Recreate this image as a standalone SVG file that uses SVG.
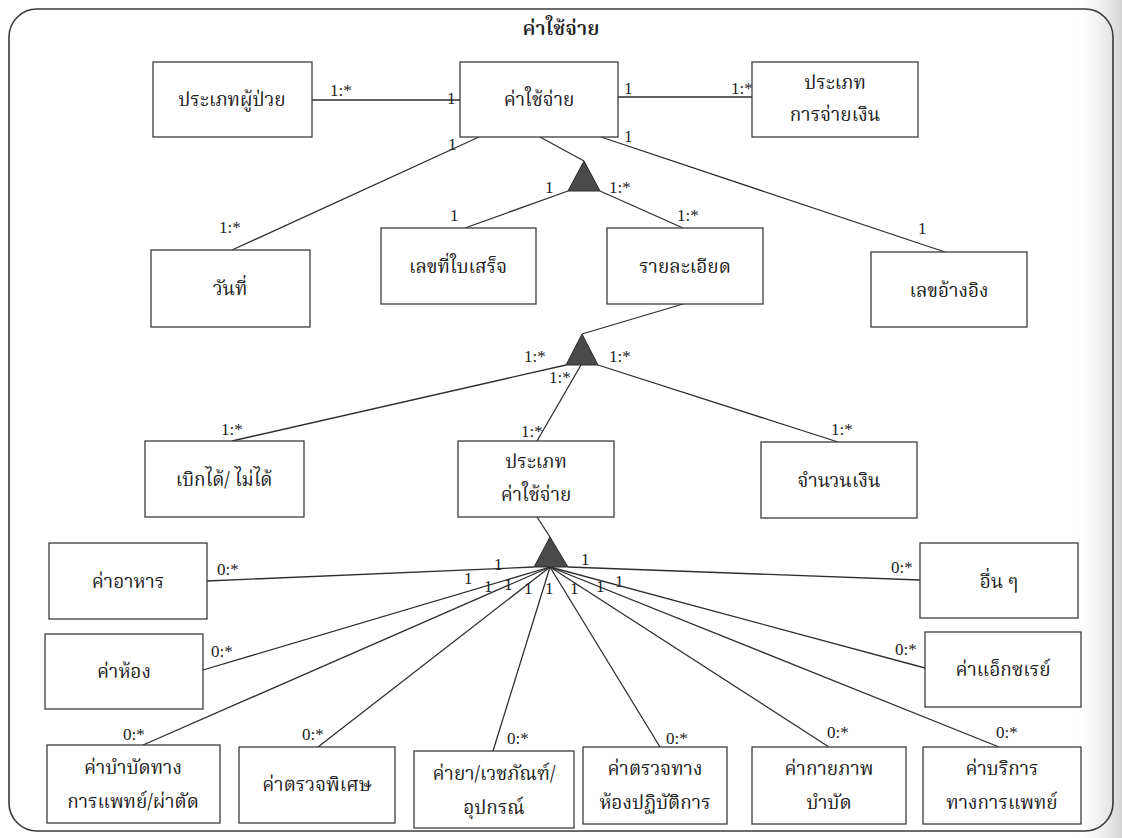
<svg xmlns="http://www.w3.org/2000/svg" width="1122" height="838" viewBox="0 0 1122 838">
  <defs>
    <linearGradient id="edgeShade" x1="0" y1="0" x2="1" y2="0">
      <stop offset="0" stop-color="#ffffff" stop-opacity="0"/>
      <stop offset="1" stop-color="#c8c8c8" stop-opacity="0.8"/>
    </linearGradient>
    <style>
      .frame { fill: none; stroke: #3a3a3a; stroke-width: 1.6; }
      .box { fill: #ffffff; stroke: #3c3c3c; stroke-width: 1.3; }
      .link { fill: none; stroke: #2e2e2e; stroke-width: 1.3; }
      .agg { fill: #4a4a4a; stroke: #2a2a2a; stroke-width: 1; }
      .label { font-family: "Norasi", "Kinnari", "Noto Serif Thai", "Noto Sans Thai Looped", "Noto Sans Thai", "Liberation Serif", serif; font-size: 19px; fill: #222; text-anchor: middle; }
      .title { font-family: "Norasi", "Kinnari", "Noto Serif Thai", "Noto Sans Thai Looped", "Noto Sans Thai", "Liberation Serif", serif; font-size: 20px; font-weight: 600; fill: #222; text-anchor: middle; }
      .mult { font-family: "Liberation Serif", serif; font-size: 17px; fill: #222; }
    </style>
  </defs>

  <rect x="0" y="0" width="1122" height="838" fill="#ffffff"/>
  <rect x="1070" y="0" width="52" height="838" fill="url(#edgeShade)"/>

  <!-- outer frame -->
  <rect class="frame" x="9" y="9" width="1104" height="822" rx="28" ry="28"/>
  <text class="title" x="561" y="35">ค่าใช้จ่าย</text>

  <!-- connectors -->
  <g id="connectors">
    <line class="link" x1="312" y1="100" x2="460" y2="100"/>
    <line class="link" x1="617" y1="97" x2="752" y2="97"/>
    <line class="link" x1="479" y1="137" x2="232" y2="250"/>
    <line class="link" x1="540" y1="137" x2="584" y2="161"/>
    <line class="link" x1="568" y1="191" x2="465" y2="228"/>
    <line class="link" x1="600" y1="191" x2="683" y2="228"/>
    <line class="link" x1="601" y1="137" x2="945" y2="252"/>
    <line class="link" x1="683" y1="304" x2="582" y2="334"/>
    <line class="link" x1="566" y1="365" x2="232" y2="441"/>
    <line class="link" x1="581" y1="365" x2="537" y2="441"/>
    <line class="link" x1="598" y1="365" x2="838" y2="442"/>
    <line class="link" x1="537" y1="517" x2="550" y2="537"/>
    <line class="link" x1="534" y1="567" x2="207" y2="581"/>
    <line class="link" x1="550" y1="567" x2="203" y2="670"/>
    <line class="link" x1="550" y1="567" x2="143" y2="745"/>
    <line class="link" x1="550" y1="567" x2="318" y2="747"/>
    <line class="link" x1="550" y1="567" x2="493" y2="751"/>
    <line class="link" x1="550" y1="567" x2="660" y2="747"/>
    <line class="link" x1="550" y1="567" x2="829" y2="747"/>
    <line class="link" x1="550" y1="567" x2="999" y2="747"/>
    <line class="link" x1="550" y1="567" x2="925" y2="668"/>
    <line class="link" x1="568" y1="567" x2="920" y2="580"/>

    <!-- aggregation triangles -->
    <polygon class="agg" points="584,161 568,191 600,191"/>
    <polygon class="agg" points="582,334 566,365 598,365"/>
    <polygon class="agg" points="550,537 534,567 568,567"/>

    <!-- multiplicities -->
    <text class="mult" x="330" y="96">1:*</text>
    <text class="mult" x="447" y="104">1</text>
    <text class="mult" x="624" y="94">1</text>
    <text class="mult" x="731" y="94">1:*</text>
    <text class="mult" x="448" y="150">1</text>
    <text class="mult" x="624" y="142">1</text>
    <text class="mult" x="219" y="233">1:*</text>
    <text class="mult" x="545" y="193">1</text>
    <text class="mult" x="450" y="221">1</text>
    <text class="mult" x="609" y="193">1:*</text>
    <text class="mult" x="677" y="221">1:*</text>
    <text class="mult" x="918" y="234">1</text>
    <text class="mult" x="524" y="362">1:*</text>
    <text class="mult" x="609" y="362">1:*</text>
    <text class="mult" x="549" y="383">1:*</text>
    <text class="mult" x="521" y="437">1:*</text>
    <text class="mult" x="221" y="435">1:*</text>
    <text class="mult" x="831" y="435">1:*</text>

    <text class="mult" x="217" y="575">0:*</text>
    <text class="mult" x="211" y="657">0:*</text>
    <text class="mult" x="123" y="740">0:*</text>
    <text class="mult" x="302" y="740">0:*</text>
    <text class="mult" x="507" y="744">0:*</text>
    <text class="mult" x="666" y="744">0:*</text>
    <text class="mult" x="827" y="738">0:*</text>
    <text class="mult" x="996" y="738">0:*</text>
    <text class="mult" x="895" y="655">0:*</text>
    <text class="mult" x="891" y="573">0:*</text>

    <text class="mult" x="494" y="570">1</text>
    <text class="mult" x="464" y="584">1</text>
    <text class="mult" x="484" y="592">1</text>
    <text class="mult" x="504" y="590">1</text>
    <text class="mult" x="524" y="594">1</text>
    <text class="mult" x="545" y="594">1</text>
    <text class="mult" x="570" y="594">1</text>
    <text class="mult" x="596" y="592">1</text>
    <text class="mult" x="615" y="587">1</text>
    <text class="mult" x="581" y="565">1</text>
  </g>

  <!-- class boxes -->
  <g id="patient-type">
    <rect class="box" x="153" y="62" width="159" height="75"/>
    <text class="label" x="232" y="106">ประเภทผู้ป่วย</text>
  </g>
  <g id="expense">
    <rect class="box" x="460" y="62" width="158" height="75"/>
    <text class="label" x="539" y="106">ค่าใช้จ่าย</text>
  </g>
  <g id="payment-type">
    <rect class="box" x="752" y="62" width="166" height="75"/>
    <text class="label" x="835" y="89">ประเภท</text>
    <text class="label" x="835" y="121">การจ่ายเงิน</text>
  </g>
  <g id="date">
    <rect class="box" x="151" y="250" width="159" height="77"/>
    <text class="label" x="230" y="295">วันที่</text>
  </g>
  <g id="receipt-no">
    <rect class="box" x="381" y="228" width="155" height="76"/>
    <text class="label" x="458" y="273">เลขที่ใบเสร็จ</text>
  </g>
  <g id="detail">
    <rect class="box" x="607" y="228" width="156" height="76"/>
    <text class="label" x="685" y="273">รายละเอียด</text>
  </g>
  <g id="reference-no">
    <rect class="box" x="871" y="252" width="156" height="75"/>
    <text class="label" x="949" y="297">เลขอ้างอิง</text>
  </g>
  <g id="claimable">
    <rect class="box" x="145" y="441" width="159" height="76"/>
    <text class="label" x="224" y="486">เบิกได้/ ไม่ได้</text>
  </g>
  <g id="expense-type">
    <rect class="box" x="458" y="441" width="156" height="76"/>
    <text class="label" x="536" y="468">ประเภท</text>
    <text class="label" x="536" y="501">ค่าใช้จ่าย</text>
  </g>
  <g id="amount">
    <rect class="box" x="761" y="442" width="156" height="76"/>
    <text class="label" x="839" y="487">จำนวนเงิน</text>
  </g>
  <g id="food">
    <rect class="box" x="49" y="543" width="158" height="76"/>
    <text class="label" x="128" y="588">ค่าอาหาร</text>
  </g>
  <g id="other">
    <rect class="box" x="920" y="543" width="158" height="75"/>
    <text class="label" x="999" y="588">อื่น ๆ</text>
  </g>
  <g id="room">
    <rect class="box" x="45" y="634" width="158" height="75"/>
    <text class="label" x="124" y="678">ค่าห้อง</text>
  </g>
  <g id="xray">
    <rect class="box" x="925" y="632" width="156" height="75"/>
    <text class="label" x="1003" y="676">ค่าแอ็กซเรย์</text>
  </g>
  <g id="treatment">
    <rect class="box" x="47" y="745" width="173" height="78"/>
    <text class="label" x="133" y="774">ค่าบำบัดทาง</text>
    <text class="label" x="133" y="808">การแพทย์/ผ่าตัด</text>
  </g>
  <g id="special-exam">
    <rect class="box" x="239" y="747" width="156" height="76"/>
    <text class="label" x="317" y="791">ค่าตรวจพิเศษ</text>
  </g>
  <g id="medicine">
    <rect class="box" x="414" y="751" width="160" height="77"/>
    <text class="label" x="494" y="780">ค่ายา/เวชภัณฑ์/</text>
    <text class="label" x="494" y="814">อุปกรณ์</text>
  </g>
  <g id="lab">
    <rect class="box" x="583" y="747" width="144" height="77"/>
    <text class="label" x="655" y="775">ค่าตรวจทาง</text>
    <text class="label" x="655" y="809">ห้องปฏิบัติการ</text>
  </g>
  <g id="physio">
    <rect class="box" x="752" y="747" width="154" height="77"/>
    <text class="label" x="829" y="775">ค่ากายภาพ</text>
    <text class="label" x="829" y="809">บำบัด</text>
  </g>
  <g id="medical-service">
    <rect class="box" x="923" y="747" width="158" height="77"/>
    <text class="label" x="1002" y="775">ค่าบริการ</text>
    <text class="label" x="1002" y="809">ทางการแพทย์</text>
  </g>
</svg>
